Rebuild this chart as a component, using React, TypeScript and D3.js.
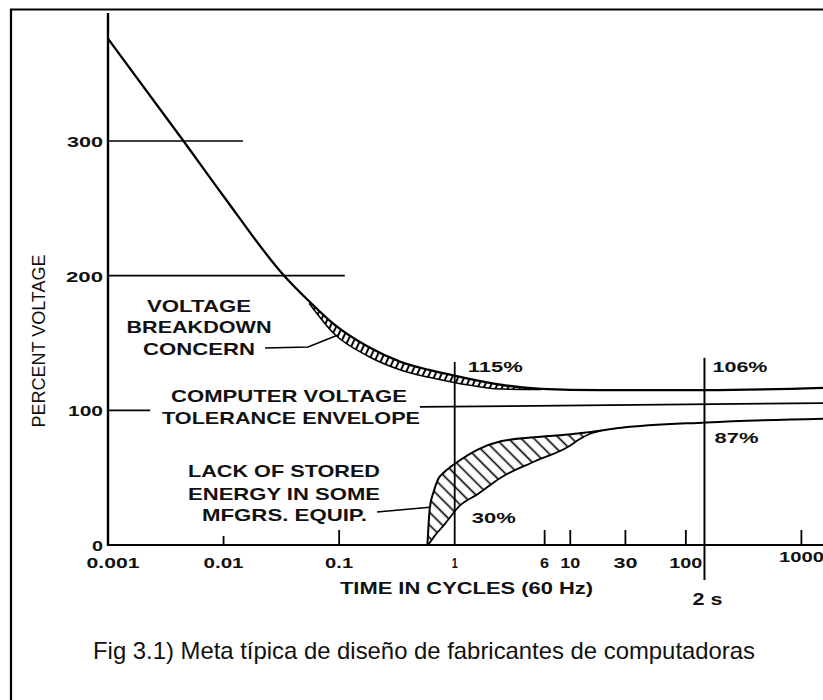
import React from 'react';
import * as d3 from 'd3';

const W = 823;
const H = 700;

// ---- axis ticks ----
const yTickValues = [0, 100, 200, 300];
const yTickLabels = ['0', '100', '200', '300'];
const yTickWidths = [11, 35, 37, 36];

const xTickValues = [0.001, 0.01, 0.1, 1, 6, 10, 30, 100, 1000];
const xTickLabels = ['0.001', '0.01', '0.1', '1', '6', '10', '30', '100', '1000'];
const xTickWidths = [53, 40, 28, 6, 9, 20, 24, 33, 45];
const xTickMarks = [0.01, 0.1, 6, 10, 30, 100, 1000];

// ---- short horizontal grid lines (value, end time) ----
const gridValues = [100, 200, 300];
const gridEnds = [0.00232, 0.112, 0.0147];

// ---- upper curve (time in cycles, percent voltage) ----
const topCurveT = [0.001, 0.0045, 0.01, 0.0334, 0.055, 0.09, 0.18, 0.34, 0.6, 1.09, 2.5, 5.6, 18, 150, 2000];
const topCurveV = [376, 300, 259, 200, 181, 164, 147, 136, 130, 125, 119, 116, 115, 115, 117];

// ---- voltage breakdown concern band ----
const breakdownT = [0.055, 0.09, 0.18, 0.34, 0.6, 1.09, 2.5, 5.6];
const breakdownTop = [181, 164, 147, 136, 130, 125, 119, 116];
const breakdownBottom = [179.5, 157, 140, 130, 124.5, 120, 115.8, 115.4];

// ---- computer voltage tolerance envelope (nominal line) ----
const envelopeT = [0.5, 2000];
const envelopeV = [102.5, 105.5];

// ---- lower curve and stored energy band ----
const rideT = [0.58, 0.595, 0.61, 0.66, 0.72, 0.81, 0.92, 1.07, 1.6, 2.5, 4.9, 9.6, 12, 15.2, 18.5];
const rideTop = [0, 16, 28, 40, 49, 54, 58, 62, 71, 77, 80, 82, 83, 84, 85];
const rideBottom = [0, 1, 2, 6, 10, 15, 21, 28, 38, 50, 62, 73, 78.5, 83, 85];
const rideTailT = [27.7, 150, 2000];
const rideTailV = [87, 91, 94];

// ---- markers ----
const oneCycle = 1;
const oneCycleTop = 136;
const twoSecondsCycles = 145;
const twoSecondsRange = [-26, 139];

// ---- leaders (time, value) ----
const concernLeader: [number, number][] = [[0.0229, 146.3], [0.0538, 147], [0.0978, 156]];
const storedLeader: [number, number][] = [[0.213, 24.5], [0.608, 28]];

// ---- text ----
const breakdownLabel = ['VOLTAGE', 'BREAKDOWN', 'CONCERN'];
const envelopeLabel = ['COMPUTER VOLTAGE', 'TOLERANCE ENVELOPE'];
const storedLabel = ['LACK OF STORED', 'ENERGY IN SOME', 'MFGRS. EQUIP.'];
const yTitle = 'PERCENT VOLTAGE';
const xTitle = 'TIME IN CYCLES (60 Hz)';
const caption = 'Fig 3.1) Meta típica de diseño de fabricantes de computadoras';

const FONT = "'Liberation Sans', Arial, Helvetica, sans-serif";
const INK = '#111';

type LabelProps = {
  x: number; y: number; w?: number; size?: number; weight?: string | number;
  anchor?: 'start' | 'middle' | 'end'; transform?: string; children: React.ReactNode;
};
function Label({ x, y, w, size = 17, weight = 'bold', anchor = 'start', transform, children }: LabelProps) {
  return (
    <text
      x={x}
      y={y}
      fontSize={size}
      fontWeight={weight}
      textAnchor={anchor}
      fontFamily={FONT}
      fill={INK}
      transform={transform}
      {...(w ? { textLength: w, lengthAdjust: 'spacingAndGlyphs' } : {})}
    >
      {children}
    </text>
  );
}

export default function App() {
  const x = d3.scaleLog().domain([0.001, 1000]).range([108, 801.4]);
  const y = d3.scaleLinear().domain([0, 300]).range([545, 141]);

  const line = d3
    .line<[number, number]>()
    .x((d) => x(d[0]))
    .y((d) => y(d[1]))
    .curve(d3.curveMonotoneX);
  const straight = d3
    .line<[number, number]>()
    .x((d) => x(d[0]))
    .y((d) => y(d[1]));

  const zip = (ts: number[], vs: number[]) => ts.map((t, i) => [t, vs[i]] as [number, number]);

  const topPath = line(zip(topCurveT, topCurveV)) || '';
  const bandBottomPath = line(zip(breakdownT, breakdownBottom)) || '';
  const bandArea =
    d3
      .area<number>()
      .x((_, i) => x(breakdownT[i]))
      .y0((_, i) => y(breakdownBottom[i]))
      .y1((_, i) => y(breakdownTop[i]))
      .curve(d3.curveMonotoneX)(breakdownT) || '';

  const rideArea =
    d3
      .area<number>()
      .x((_, i) => x(rideT[i]))
      .y0((_, i) => y(rideBottom[i]))
      .y1((_, i) => y(rideTop[i]))
      .curve(d3.curveMonotoneX)(rideT) || '';
  const rideTopPath = line([...zip(rideT, rideTop), ...zip(rideTailT, rideTailV)]) || '';
  const rideBottomPath = line(zip(rideT, rideBottom)) || '';

  const envelopePath = straight(zip(envelopeT, envelopeV)) || '';

  const x0 = x(0.001);
  const yZero = y(0);

  return (
    <svg
      width={W}
      height={H}
      viewBox={`0 0 ${W} ${H}`}
      style={{ position: 'absolute', left: 0, top: 0, display: 'block', background: '#fff' }}
    >
      <defs>
        <pattern id="hatchWide" patternUnits="userSpaceOnUse" width={9} height={9} patternTransform="rotate(-45)">
          <line x1={4.5} y1={-1} x2={4.5} y2={10} stroke="#000" strokeWidth={1.6} />
        </pattern>
        <pattern id="hatchBand" patternUnits="userSpaceOnUse" width={5.5} height={5.5} patternTransform="rotate(25)">
          <line x1={2.75} y1={-1} x2={2.75} y2={7} stroke="#000" strokeWidth={2} />
        </pattern>
      </defs>

      {/* frame */}
      <path d={`M11,${H} V9.5 H${W}`} fill="none" stroke="#000" strokeWidth={2.2} />

      {/* grid stubs */}
      {gridValues.map((v, i) => (
        <line key={v} x1={x0} x2={x(gridEnds[i])} y1={y(v)} y2={y(v)} stroke="#000" strokeWidth={1.7} />
      ))}

      {/* hatched regions */}
      <path d={bandArea} fill="url(#hatchBand)" stroke="none" />
      <path d={rideArea} fill="url(#hatchWide)" stroke="none" />

      {/* curves */}
      <path d={bandBottomPath} fill="none" stroke="#000" strokeWidth={1.5} />
      <path d={topPath} fill="none" stroke="#000" strokeWidth={2.3} />
      <path d={envelopePath} fill="none" stroke="#000" strokeWidth={1.8} />
      <path d={rideBottomPath} fill="none" stroke="#000" strokeWidth={1.8} />
      <path d={rideTopPath} fill="none" stroke="#000" strokeWidth={2} />

      {/* markers */}
      <line x1={x(oneCycle)} x2={x(oneCycle)} y1={yZero} y2={y(oneCycleTop)} stroke="#000" strokeWidth={1.8} />
      <line
        x1={x(twoSecondsCycles)}
        x2={x(twoSecondsCycles)}
        y1={y(twoSecondsRange[0])}
        y2={y(twoSecondsRange[1])}
        stroke="#000"
        strokeWidth={2}
      />

      {/* leaders */}
      <path d={straight(concernLeader) || ''} fill="none" stroke="#000" strokeWidth={1.6} />
      <path d={straight(storedLeader) || ''} fill="none" stroke="#000" strokeWidth={1.6} />

      {/* axes */}
      <line x1={x0} x2={x0} y1={13} y2={yZero + 1} stroke="#000" strokeWidth={2.4} />
      <line x1={x0} x2={W} y1={yZero} y2={yZero} stroke="#000" strokeWidth={2.2} />
      {xTickMarks.map((t) => (
        <line
          key={t}
          x1={x(t)}
          x2={x(t)}
          y1={yZero}
          y2={yZero - (t === 0.01 ? 9 : 15)}
          stroke="#000"
          strokeWidth={1.8}
        />
      ))}

      {/* y tick labels */}
      {yTickValues.map((v, i) => (
        <Label key={v} x={103} y={y(v) + 6} w={yTickWidths[i]} size={15} anchor="end">
          {yTickLabels[i]}
        </Label>
      ))}

      {/* x tick labels */}
      {xTickValues.map((t, i) => (
        <Label
          key={t}
          x={i === 0 ? x(t) + 5 : x(t)}
          y={t === 1000 ? 562 : 568}
          w={xTickWidths[i]}
          size={15}
          anchor="middle"
        >
          {xTickLabels[i]}
        </Label>
      ))}

      {/* axis titles */}
      <Label x={466.5} y={594} w={253} anchor="middle">
        {xTitle}
      </Label>
      <Label x={0} y={0} w={173} size={18.5} weight="normal" anchor="middle" transform="translate(44.5,341) rotate(-90)">
        {yTitle}
      </Label>
      <Label x={x(twoSecondsCycles) + 3} y={605} w={30} anchor="middle">
        2 s
      </Label>

      {/* percent labels */}
      <Label x={x(oneCycle) + 13} y={372} w={55} size={15}>115%</Label>
      <Label x={x(twoSecondsCycles) + 8} y={372} w={55} size={15}>106%</Label>
      <Label x={x(twoSecondsCycles) + 10} y={443} w={44} size={15}>87%</Label>
      <Label x={x(oneCycle) + 17} y={523} w={44} size={15}>30%</Label>

      {/* annotations */}
      {breakdownLabel.map((s, i) => (
        <Label key={s} x={199} y={[312, 333, 355][i]} w={[104, 145, 112][i]} anchor="middle">
          {s}
        </Label>
      ))}
      {envelopeLabel.map((s, i) => (
        <Label key={s} x={[289, 291][i]} y={[402, 424][i]} w={[236, 258][i]} anchor="middle">
          {s}
        </Label>
      ))}
      {storedLabel.map((s, i) => (
        <Label key={s} x={[284, 284, 284.5][i]} y={[477, 500, 521][i]} w={[192, 192, 165][i]} anchor="middle">
          {s}
        </Label>
      ))}

      {/* caption */}
      <Label x={93} y={659} w={662} size={23.8} weight="normal">
        {caption}
      </Label>
    </svg>
  );
}
